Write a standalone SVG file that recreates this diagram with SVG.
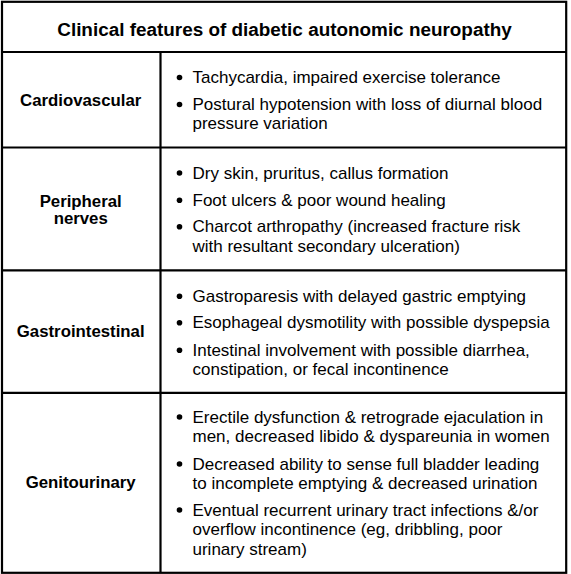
<svg xmlns="http://www.w3.org/2000/svg" width="571" height="574" viewBox="0 0 571 574">
<style>
.b{font-family:"Liberation Sans",Arial,sans-serif;font-size:17px;fill:#000}
.l{font-family:"Liberation Sans",Arial,sans-serif;font-size:16.8px;font-weight:bold;fill:#000;text-anchor:middle}
.h{font-family:"Liberation Sans",Arial,sans-serif;font-size:18.9px;font-weight:bold;fill:#000;text-anchor:middle}
.ln{stroke:#000;stroke-width:2.2;fill:none}
</style>
<rect x="0" y="0" width="571" height="574" fill="#fff"/>
<g id="grid">
<rect class="ln" x="2" y="1.8" width="564.2" height="571"/>
<line class="ln" x1="2" y1="52" x2="566" y2="52"/>
<line class="ln" x1="2" y1="147.5" x2="566" y2="147.5"/>
<line class="ln" x1="2" y1="270.3" x2="566" y2="270.3"/>
<line class="ln" x1="2" y1="392.8" x2="566" y2="392.8"/>
<line class="ln" x1="160.5" y1="52" x2="160.5" y2="572"/>
</g>
<g id="header"><text class="h" x="284.5" y="36">Clinical features of diabetic autonomic neuropathy</text></g>
<g id="cardio">
<text class="l" x="80.7" y="106">Cardiovascular</text>
<circle cx="179.5" cy="77.5" r="2.8"/>
<text class="b" x="192.5" y="83">Tachycardia, impaired exercise tolerance</text>
<circle cx="179.5" cy="104.5" r="2.8"/>
<text class="b" x="192.5" y="110">Postural hypotension with loss of diurnal blood</text>
<text class="b" x="192.5" y="129.3">pressure variation</text>
</g>
<g id="peripheral">
<text class="l" x="80.7" y="206.7">Peripheral</text>
<text class="l" x="80.7" y="224">nerves</text>
<circle cx="179.5" cy="173" r="2.8"/>
<text class="b" x="192.5" y="178.5">Dry skin, pruritus, callus formation</text>
<circle cx="179.5" cy="200.3" r="2.8"/>
<text class="b" x="192.5" y="205.8">Foot ulcers &amp; poor wound healing</text>
<circle cx="179.5" cy="226.8" r="2.8"/>
<text class="b" x="192.5" y="232.3">Charcot arthropathy (increased fracture risk</text>
<text class="b" x="192.5" y="251.7">with resultant secondary ulceration)</text>
</g>
<g id="gastro">
<text class="l" x="80.7" y="337">Gastrointestinal</text>
<circle cx="179.5" cy="296.2" r="2.8"/>
<text class="b" x="192.5" y="301.7">Gastroparesis with delayed gastric emptying</text>
<circle cx="179.5" cy="322.8" r="2.8"/>
<text class="b" x="192.5" y="328.3">Esophageal dysmotility with possible dyspepsia</text>
<circle cx="179.5" cy="350.2" r="2.8"/>
<text class="b" x="192.5" y="355.7">Intestinal involvement with possible diarrhea,</text>
<text class="b" x="192.5" y="375">constipation, or fecal incontinence</text>
</g>
<g id="genito">
<text class="l" x="80.7" y="488">Genitourinary</text>
<circle cx="179.5" cy="417" r="2.8"/>
<text class="b" x="192.5" y="422.5">Erectile dysfunction &amp; retrograde ejaculation in</text>
<text class="b" x="192.5" y="442">men, decreased libido &amp; dyspareunia in women</text>
<circle cx="179.5" cy="464" r="2.8"/>
<text class="b" x="192.5" y="469.5">Decreased ability to sense full bladder leading</text>
<text class="b" x="192.5" y="489">to incomplete emptying &amp; decreased urination</text>
<circle cx="179.5" cy="510" r="2.8"/>
<text class="b" x="192.5" y="515.5">Eventual recurrent urinary tract infections &amp;/or</text>
<text class="b" x="192.5" y="535">overflow incontinence (eg, dribbling, poor</text>
<text class="b" x="192.5" y="554.5">urinary stream)</text>
</g>
</svg>
